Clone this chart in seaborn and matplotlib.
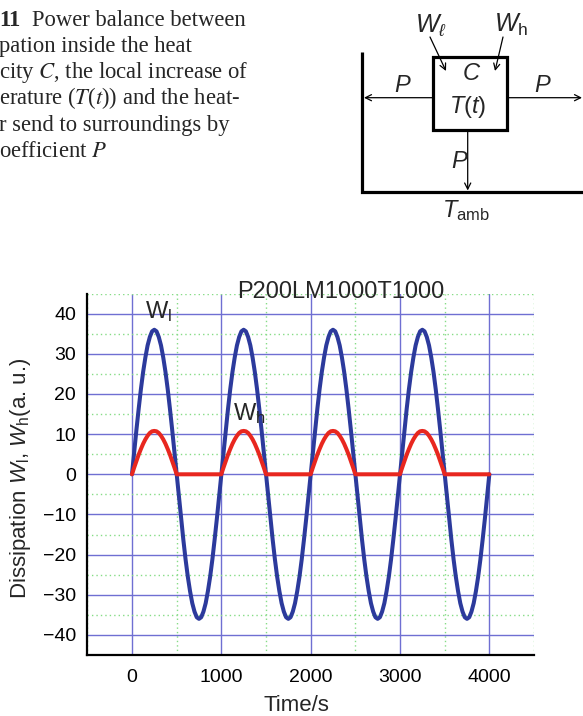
import numpy as np
import pandas as pd
import matplotlib
matplotlib.use("Agg")
import matplotlib.pyplot as plt
from matplotlib.ticker import MultipleLocator
import seaborn as sns

# ---- data -------------------------------------------------------------
time_s = np.arange(0, 4001, 25)

# low-frequency dissipation W_l, sampled every 25 s
w_low = [
    0, 5.6, 11.1, 16.3, 21.2, 25.5, 29.1, 32.1, 34.2, 35.6, 36.0, 35.6, 34.2, 32.1, 29.1, 25.5, 21.2, 16.3, 11.1, 5.6,
    0, -5.6, -11.1, -16.3, -21.2, -25.5, -29.1, -32.1, -34.2, -35.6, -36.0, -35.6, -34.2, -32.1, -29.1, -25.5, -21.2, -16.3, -11.1, -5.6,
    0, 5.6, 11.1, 16.3, 21.2, 25.5, 29.1, 32.1, 34.2, 35.6, 36.0, 35.6, 34.2, 32.1, 29.1, 25.5, 21.2, 16.3, 11.1, 5.6,
    0, -5.6, -11.1, -16.3, -21.2, -25.5, -29.1, -32.1, -34.2, -35.6, -36.0, -35.6, -34.2, -32.1, -29.1, -25.5, -21.2, -16.3, -11.1, -5.6,
    0, 5.6, 11.1, 16.3, 21.2, 25.5, 29.1, 32.1, 34.2, 35.6, 36.0, 35.6, 34.2, 32.1, 29.1, 25.5, 21.2, 16.3, 11.1, 5.6,
    0, -5.6, -11.1, -16.3, -21.2, -25.5, -29.1, -32.1, -34.2, -35.6, -36.0, -35.6, -34.2, -32.1, -29.1, -25.5, -21.2, -16.3, -11.1, -5.6,
    0, 5.6, 11.1, 16.3, 21.2, 25.5, 29.1, 32.1, 34.2, 35.6, 36.0, 35.6, 34.2, 32.1, 29.1, 25.5, 21.2, 16.3, 11.1, 5.6,
    0, -5.6, -11.1, -16.3, -21.2, -25.5, -29.1, -32.1, -34.2, -35.6, -36.0, -35.6, -34.2, -32.1, -29.1, -25.5, -21.2, -16.3, -11.1, -5.6,
    0,
]

# high-level dissipation W_h, sampled every 25 s
w_high = [
    0, 1.7, 3.3, 4.9, 6.3, 7.6, 8.7, 9.6, 10.3, 10.7, 10.8, 10.7, 10.3, 9.6, 8.7, 7.6, 6.3, 4.9, 3.3, 1.7,
    0, 0, 0, 0, 0, 0, 0, 0, 0, 0, 0, 0, 0, 0, 0, 0, 0, 0, 0, 0,
    0, 1.7, 3.3, 4.9, 6.3, 7.6, 8.7, 9.6, 10.3, 10.7, 10.8, 10.7, 10.3, 9.6, 8.7, 7.6, 6.3, 4.9, 3.3, 1.7,
    0, 0, 0, 0, 0, 0, 0, 0, 0, 0, 0, 0, 0, 0, 0, 0, 0, 0, 0, 0,
    0, 1.7, 3.3, 4.9, 6.3, 7.6, 8.7, 9.6, 10.3, 10.7, 10.8, 10.7, 10.3, 9.6, 8.7, 7.6, 6.3, 4.9, 3.3, 1.7,
    0, 0, 0, 0, 0, 0, 0, 0, 0, 0, 0, 0, 0, 0, 0, 0, 0, 0, 0, 0,
    0, 1.7, 3.3, 4.9, 6.3, 7.6, 8.7, 9.6, 10.3, 10.7, 10.8, 10.7, 10.3, 9.6, 8.7, 7.6, 6.3, 4.9, 3.3, 1.7,
    0, 0, 0, 0, 0, 0, 0, 0, 0, 0, 0, 0, 0, 0, 0, 0, 0, 0, 0, 0,
    0,
]

series_names = ["W_l", "W_h"]
series_colors = ["#2c3a9c", "#e8271f"]

x_major = [0, 1000, 2000, 3000, 4000]
y_major = [-40, -30, -20, -10, 0, 10, 20, 30, 40]

caption_lines = [
    "pation inside the heat",
    "city $C$, the local increase of",
    "erature ($T$($t$)) and the heat-",
    "r send to surroundings by",
    "oefficient $P$",
]

df = pd.DataFrame({
    "time": np.concatenate([time_s, time_s]),
    "value": np.concatenate([w_low, w_high]),
    "series": [series_names[0]] * len(time_s) + [series_names[1]] * len(time_s),
})

# ---- style ------------------------------------------------------------
sns.set_style("white")
plt.rcParams["font.family"] = ["Liberation Sans", "DejaVu Sans"]
plt.rcParams["mathtext.fontset"] = "custom"
plt.rcParams["mathtext.rm"] = "Liberation Sans"
plt.rcParams["mathtext.it"] = "Liberation Sans:italic"
plt.rcParams["mathtext.bf"] = "Liberation Sans:bold"

W, H = 583, 716
fig = plt.figure(figsize=(W / 100, H / 100), dpi=100)

# overlay in pixel coordinates for the caption and the sketch
ov = fig.add_axes([0, 0, 1, 1], zorder=0)
ov.set_xlim(0, W)
ov.set_ylim(H, 0)
ov.axis("off")

# caption
serif = ["Liberation Serif", "DejaVu Serif"]
ov.text(-1, 25.7, "11", family=serif, fontsize=16.3, fontweight="bold", va="baseline")
ov.text(32, 25.7, "Power balance between", family=serif, fontsize=16.3, va="baseline")
for i, line in enumerate(caption_lines):
    t = ov.text(-1, 51.9 + 26.2 * i, line, family=serif, fontsize=16.3, va="baseline")
    t.set_math_fontfamily("stix")

# sketch: wall, floor, capacity box and heat flows
lw_thick = 2.3
ov.plot([362.3, 362.3, 583], [51.7, 191.7, 191.7], color="black", lw=lw_thick,
        solid_capstyle="butt", solid_joinstyle="miter")
ov.add_patch(plt.Rectangle((432.7, 56.7), 74.6, 73.3, fill=False, ec="black", lw=lw_thick))

arrow_kw = dict(arrowstyle="->", color="black", lw=0.9, mutation_scale=11,
                shrinkA=0, shrinkB=0)
for (x0, y0), (x1, y1) in [((432.7, 97.7), (364, 97.7)),
                           ((507.3, 97.7), (582, 97.7)),
                           ((467.7, 131.0), (467.7, 190.5)),
                           ((430.0, 37.0), (446.0, 71.0)),
                           ((503.0, 37.0), (495.0, 71.0))]:
    ov.annotate("", xy=(x1, y1), xytext=(x0, y0), arrowprops=arrow_kw)

fs_sk = 17
ov.text(431, 31.7, r"$W_\ell$", fontsize=18, ha="center", va="baseline")
ov.text(511.5, 31.7, r"$W_\mathrm{h}$", fontsize=18, ha="center", va="baseline")
ov.text(471.5, 80, r"$C$", fontsize=fs_sk, ha="center", va="baseline")
ov.text(467.5, 113.3, r"$T(t)$", fontsize=fs_sk, ha="center", va="baseline")
ov.text(403, 91.7, r"$P$", fontsize=fs_sk, ha="center", va="baseline")
ov.text(543, 91.7, r"$P$", fontsize=fs_sk, ha="center", va="baseline")
ov.text(460, 168.3, r"$P$", fontsize=fs_sk, ha="center", va="baseline")
ov.text(466, 216.7, r"$T_\mathrm{amb}$", fontsize=fs_sk, ha="center", va="baseline")

# ---- chart ------------------------------------------------------------
left_px, right_px, top_px, bottom_px = 87.3, 534.0, 293.6, 655.0
ax = fig.add_axes([left_px / W, 1 - bottom_px / H,
                   (right_px - left_px) / W, (bottom_px - top_px) / H], zorder=1)
ax.patch.set_alpha(0)

sns.lineplot(data=df, x="time", y="value", hue="series", hue_order=series_names,
             palette=series_colors, linewidth=2.9, estimator=None, legend=False, ax=ax)

ax.set_xlim(-500, 4500)
ax.set_ylim(-45, 45)
ax.set_xticks(x_major)
ax.set_yticks(y_major)
ax.xaxis.set_minor_locator(MultipleLocator(500))
ax.yaxis.set_minor_locator(MultipleLocator(5))

ax.set_axisbelow(True)
ax.grid(which="major", color="#6f6fd2", lw=1.0, ls="-")
ax.grid(which="minor", color="#86dc86", lw=1.0, ls=(0, (1, 2.2)))

sns.despine(ax=ax)
for side in ("left", "bottom"):
    ax.spines[side].set_color("black")
    ax.spines[side].set_linewidth(1.6)

ax.tick_params(which="major", direction="out", length=5, width=1.4,
               colors="black", labelsize=14, pad=3)
ax.tick_params(which="minor", direction="out", length=3, width=1.2, colors="black")
ax.tick_params(axis="x", which="major", pad=5)

ax.set_xlabel("Time/s", fontsize=16)
ax.xaxis.set_label_coords((296.5 - left_px) / (right_px - left_px),
                          (bottom_px - 695) / (bottom_px - top_px))
ax.set_ylabel(r"Dissipation $W_\mathrm{l}$, $W_\mathrm{h}$(a. u.)", fontsize=16)
ax.yaxis.set_label_coords((33 - left_px) / (right_px - left_px), 0.49)

ax.set_title("P200LM1000T1000", fontsize=17,
             x=(341 - left_px) / (right_px - left_px),
             y=(bottom_px - 306) / (bottom_px - top_px), va="baseline")

ax.text(146, 38.9, r"$\mathrm{W}_\mathrm{l}$", fontsize=17, va="baseline")
ax.text(1131, 13.5, r"$\mathrm{W}_\mathrm{h}$", fontsize=17, va="baseline")

fig.savefig("out.png", dpi=100)
